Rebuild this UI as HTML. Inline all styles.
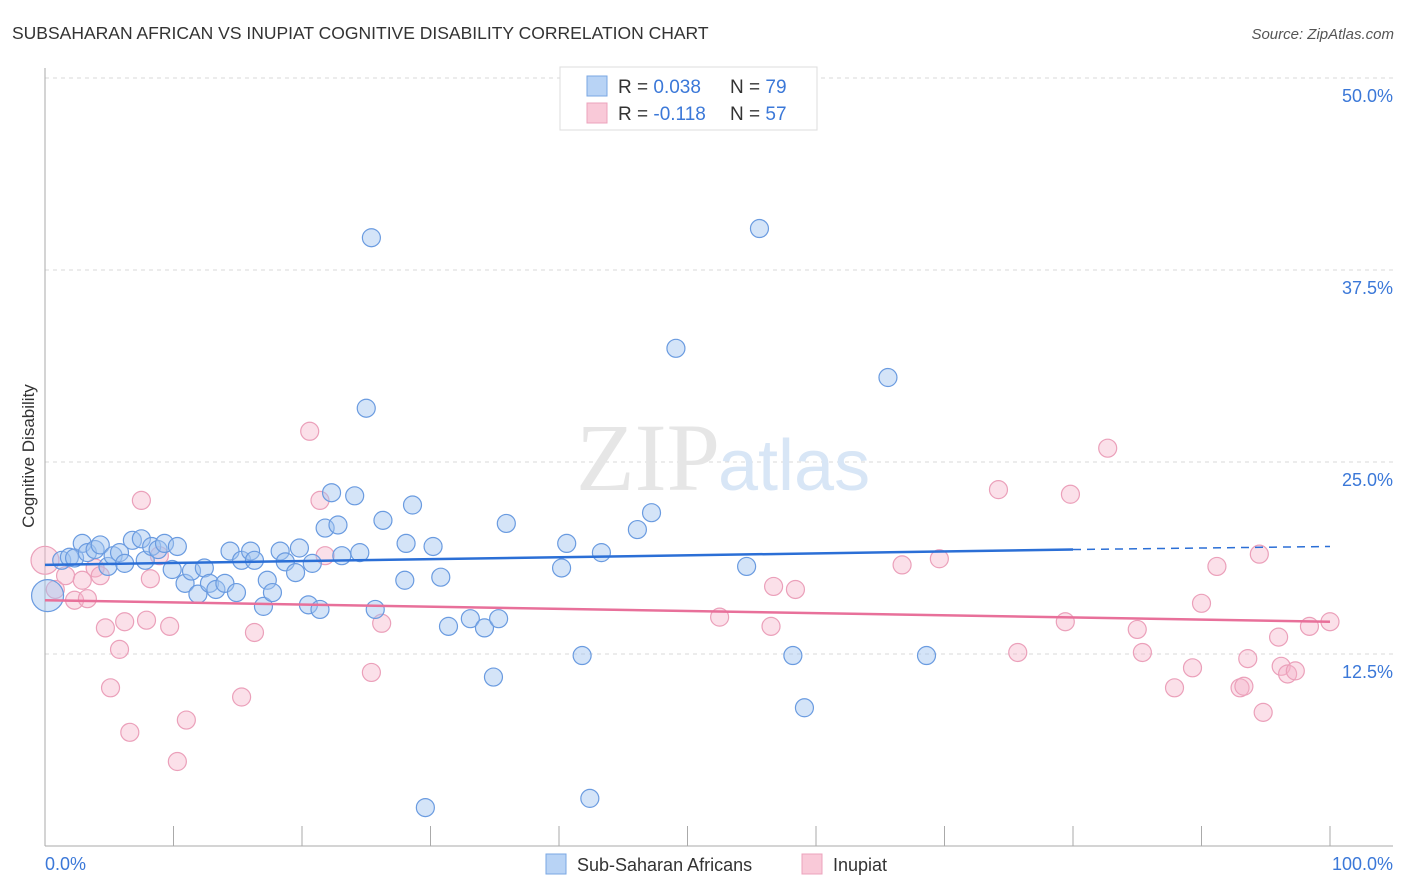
<!DOCTYPE html>
<html><head><meta charset="utf-8"><style>
body{margin:0;background:#fff;font-family:"Liberation Sans",sans-serif;}
svg{display:block}
</style></head><body>
<svg id="chart" width="1406" height="892">
<text x="12" y="39" font-size="17.5" fill="#333">SUBSAHARAN AFRICAN VS INUPIAT COGNITIVE DISABILITY CORRELATION CHART</text>
<text x="1394" y="39" font-size="15" fill="#555" font-style="italic" text-anchor="end">Source: ZipAtlas.com</text>
<text x="0" y="0" transform="translate(34,456) rotate(-90)" font-size="17" fill="#333" text-anchor="middle">Cognitive Disability</text>
<g id="grid"></g>
<text x="720" y="490" font-size="96" fill="#e6e6e6" font-family="Liberation Serif,serif" text-anchor="end">ZIP</text>
<text x="718" y="490" font-size="72" fill="#d8e6f6">atlas</text>
<g id="pts"></g>
<g id="lines"></g>
<g>
<rect x="560" y="67" width="257" height="63" fill="#fff" stroke="#ddd"/>
<rect x="587" y="76" width="20" height="20" fill="#b8d3f5" stroke="#7aa7e3"/>
<rect x="587" y="103" width="20" height="20" fill="#f9c9d8" stroke="#eca3bc"/>
<text x="618" y="93" font-size="19" fill="#333">R = <tspan fill="#3b78d8">0.038</tspan></text>
<text x="730" y="93" font-size="19" fill="#333">N = <tspan fill="#3b78d8">79</tspan></text>
<text x="618" y="120" font-size="19" fill="#333">R = <tspan fill="#3b78d8">-0.118</tspan></text>
<text x="730" y="120" font-size="19" fill="#333">N = <tspan fill="#3b78d8">57</tspan></text>
</g>
<text x="45" y="870" font-size="18" fill="#3b78d8">0.0%</text>
<text x="1393" y="870" font-size="18" fill="#3b78d8" text-anchor="end">100.0%</text>
<g>
<rect x="546" y="854" width="20" height="20" fill="#b8d3f5" stroke="#7aa7e3"/>
<text x="577" y="871" font-size="18" fill="#333">Sub-Saharan Africans</text>
<rect x="802" y="854" width="20" height="20" fill="#f9c9d8" stroke="#eca3bc"/>
<text x="833" y="871" font-size="18" fill="#333">Inupiat</text>
</g>
</svg>
<script>
const blueX=[0.2,1.3,1.9,2.3,2.9,3.3,3.9,4.3,4.9,5.3,5.8,6.2,6.8,7.5,7.8,8.3,8.8,9.3,9.9,10.3,10.9,11.4,11.9,12.4,12.8,13.3,14.0,14.4,14.9,15.3,16.0,16.3,17.0,17.3,17.7,18.3,18.7,19.5,19.8,20.5,20.8,21.4,21.8,22.3,22.8,23.1,24.1,24.5,25.0,25.4,25.7,26.3,28.0,28.1,28.6,29.6,30.2,30.8,31.4,33.1,34.2,34.9,35.3,35.9,40.2,40.6,41.8,42.4,43.3,46.1,47.2,49.1,54.6,55.6,58.2,59.1,65.6,68.6];
const blueY=[16.3,18.6,18.8,18.75,19.7,19.1,19.3,19.6,18.2,18.9,19.1,18.4,19.9,20.0,18.6,19.5,19.3,19.7,18.0,19.5,17.1,17.9,16.4,18.1,17.1,16.7,17.1,19.2,16.5,18.6,19.2,18.6,15.6,17.3,16.5,19.2,18.5,17.8,19.4,15.7,18.4,15.4,20.7,23.0,20.9,18.9,22.8,19.1,28.5,39.6,15.4,21.2,17.3,19.7,22.2,2.5,19.5,17.5,14.3,14.8,14.2,11.0,14.8,21.0,18.1,19.7,12.4,3.1,19.1,20.6,21.7,32.4,18.2,40.2,12.4,9.0,30.5,12.4];
const pinkX=[0,0.8,1.6,2.3,2.9,3.3,3.9,4.3,4.7,5.1,5.8,6.2,6.6,7.5,8.2,7.9,8.9,9.7,10.3,11.0,15.3,16.3,20.6,21.4,21.8,25.4,26.2,52.5,56.5,56.7,58.4,66.7,69.6,74.2,75.7,79.4,79.8,82.7,85.0,85.4,87.9,89.3,90.0,91.2,93.0,93.3,93.6,94.5,94.8,96.0,96.2,96.7,97.3,98.4,100];
const pinkY=[18.6,16.7,17.6,16.0,17.3,16.1,18.1,17.6,14.2,10.3,12.8,14.6,7.4,22.5,17.4,14.7,18.9,14.3,5.5,8.2,9.7,13.9,27.0,22.5,18.9,11.3,14.5,14.9,14.3,16.9,16.7,18.3,18.7,23.2,12.6,14.6,22.9,25.9,14.1,12.6,10.3,11.6,15.8,18.2,10.3,10.4,12.2,19.0,8.7,13.6,11.7,11.2,11.4,14.3,14.6];
const blueTrendX=[0,80,100];
const blueTrendY=[18.3,19.3,19.5];
const pinkTrendX=[0,100];
const pinkTrendY=[16.0,14.6];
const yTicks=[12.5,25.0,37.5,50.0];
const xTicks=[0,10,20,30,40,50,60,70,80,90,100];
const NS="http://www.w3.org/2000/svg";
const sx=v=>45+v*12.85, sy=v=>846-v*15.36;
function mk(t,a,p){const e=document.createElementNS(NS,t);for(const k in a)e.setAttribute(k,a[k]);p.appendChild(e);return e;}
const grid=document.getElementById('grid');
yTicks.forEach(t=>{
 const l=mk('line',{x1:45,x2:1393,y1:sy(t),y2:sy(t),stroke:'#d8d8d8','stroke-dasharray':'4,4'},grid);
 
 
 const tx=mk('text',{x:1393,y:sy(t)+24,'font-size':18,fill:'#3b78d8','text-anchor':'end'},grid);
 tx.textContent=t.toFixed(1)+'%';
 
 
});
const ax=mk('line',{x1:45,x2:45,y1:68,y2:846,stroke:'#aaa'},grid);


const bx=mk('line',{x1:45,x2:1393,y1:846,y2:846,stroke:'#aaa'},grid);


xTicks.forEach(t=>{
 const l=mk('line',{x1:sx(t),x2:sx(t),y1:826,y2:846,stroke:'#aaa'},grid);
 
 
});
const pts=document.getElementById('pts');
pinkX.forEach((x,i)=>{
 const c=mk('circle',{cx:sx(x),cy:sy(pinkY[i]),r:i==0?14:9,fill:'rgba(246,178,200,0.4)',stroke:'#eba0ba','stroke-width':1.2},pts);
 
 
});
blueX.forEach((x,i)=>{
 const c=mk('circle',{cx:sx(x),cy:sy(blueY[i]),r:i==0?16:9,fill:'rgba(160,196,240,0.45)',stroke:'#6a9be0','stroke-width':1.2},pts);
 
 
});
const lines=document.getElementById('lines');
const b1=mk('line',{x1:sx(blueTrendX[0]),y1:sy(blueTrendY[0]),x2:sx(blueTrendX[1]),y2:sy(blueTrendY[1]),stroke:'#2b6fd6','stroke-width':2.5},lines);


const b2=mk('line',{x1:sx(blueTrendX[1]),y1:sy(blueTrendY[1]),x2:sx(blueTrendX[2]),y2:sy(blueTrendY[2]),stroke:'#2b6fd6','stroke-width':1.5,'stroke-dasharray':'8,6'},lines);


const p1=mk('line',{x1:sx(pinkTrendX[0]),y1:sy(pinkTrendY[0]),x2:sx(pinkTrendX[1]),y2:sy(pinkTrendY[1]),stroke:'#e8709a','stroke-width':2.5},lines);


</script>
</body></html>
